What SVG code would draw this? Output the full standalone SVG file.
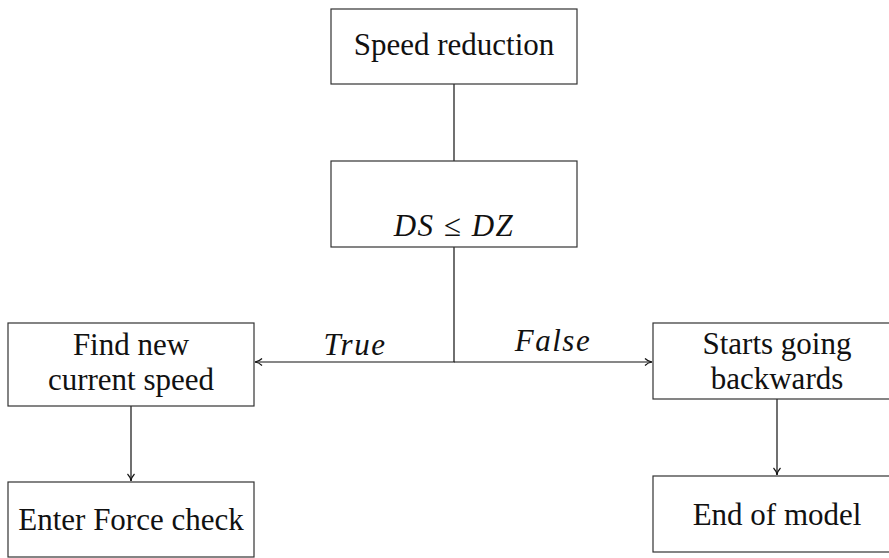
<svg xmlns="http://www.w3.org/2000/svg" width="889" height="558" viewBox="0 0 889 558">
<defs>
<style>
.box{fill:#fff;stroke:#333;stroke-width:1.2}
.t{font-family:"Liberation Serif","Times New Roman",serif;font-size:31px;fill:#111;text-anchor:middle}
.i{font-style:italic;letter-spacing:1.5px}
.c{stroke:#111;stroke-width:1.2;fill:none}
</style>
<marker id="ah" markerWidth="10" markerHeight="10" refX="8" refY="5" orient="auto" markerUnits="userSpaceOnUse">
<path d="M1,1.5 Q4,4.5 8,5 Q4,5.5 1,8.5" fill="none" stroke="#111" stroke-width="1.2"/>
</marker>
</defs>
<g id="connectors">
<line class="c" x1="454" y1="84" x2="454" y2="161"/>
<polyline class="c" points="454,247 454,362 255,362" marker-end="url(#ah)"/>
<line class="c" x1="454" y1="362" x2="652" y2="362" marker-end="url(#ah)"/>
<line class="c" x1="131" y1="406" x2="131" y2="481" marker-end="url(#ah)"/>
<line class="c" x1="777" y1="399" x2="777" y2="475" marker-end="url(#ah)"/>
<text class="t i" x="355" y="355">True</text>
<text class="t i" x="553" y="351">False</text>
</g>
<g id="speed-reduction">
<rect class="box" x="331" y="9" width="246" height="75"/>
<text class="t" x="454" y="55">Speed reduction</text>
</g>
<g id="decision">
<rect class="box" x="331" y="161" width="246" height="86"/>
<text class="t i" x="454" y="236">DS ≤ DZ</text>
</g>
<g id="find-new">
<rect class="box" x="8" y="323" width="246" height="83"/>
<text class="t" x="131" y="355">Find new</text>
<text class="t" x="131" y="390">current speed</text>
</g>
<g id="starts-backwards">
<rect class="box" x="653" y="323" width="248" height="76"/>
<text class="t" x="777" y="354">Starts going</text>
<text class="t" x="777" y="389">backwards</text>
</g>
<g id="enter-force">
<rect class="box" x="8" y="482" width="246" height="75"/>
<text class="t" x="131" y="530">Enter Force check</text>
</g>
<g id="end-model">
<rect class="box" x="653" y="476" width="248" height="76"/>
<text class="t" x="777" y="525">End of model</text>
</g>
</svg>
